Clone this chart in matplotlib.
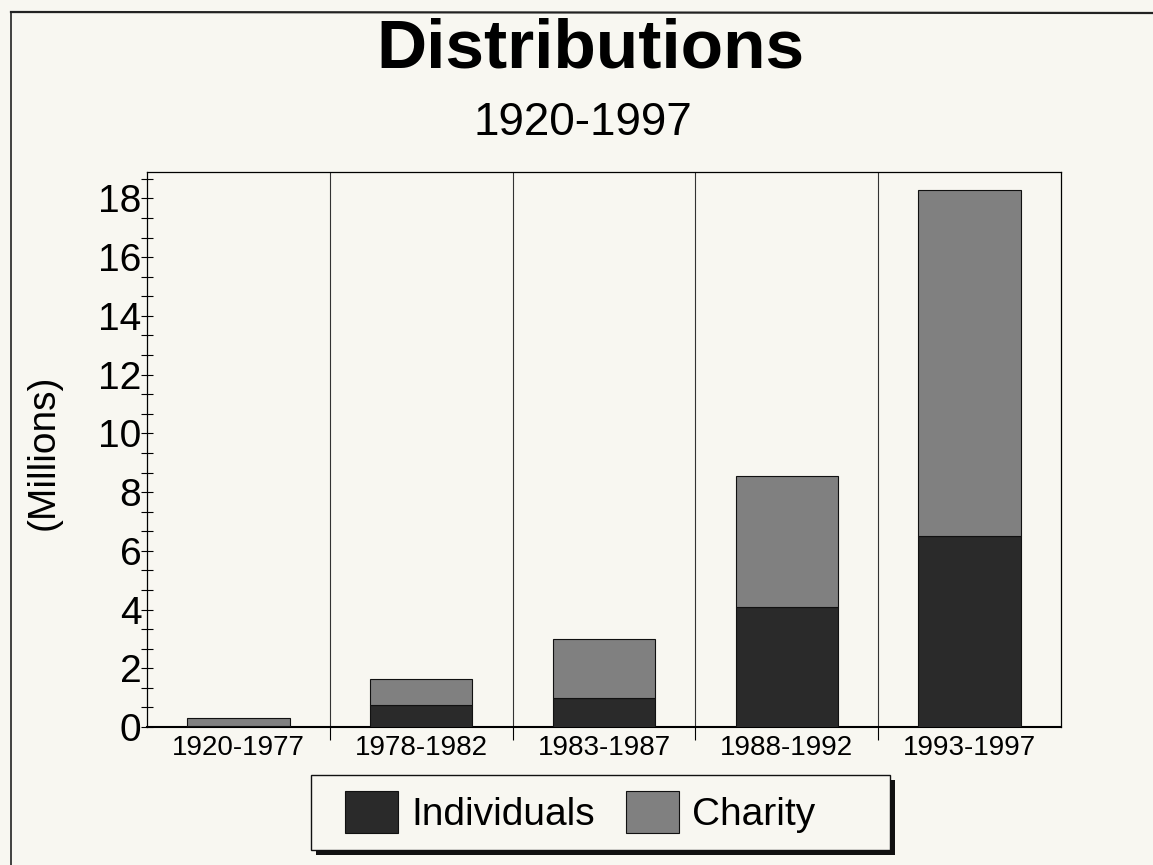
import matplotlib
matplotlib.use("Agg")
import matplotlib.pyplot as plt
from matplotlib.lines import Line2D
from matplotlib.patches import Rectangle
from matplotlib.ticker import MultipleLocator, FixedLocator
import numpy as np

# data (millions)
periods = ["1920-1977", "1978-1982", "1983-1987", "1988-1992", "1993-1997"]
individuals = [0.05, 0.74, 0.98, 4.1, 6.5]
charity = [0.25, 0.88, 2.0, 4.45, 11.8]

bg = "#f8f7f1"
plt.rcParams["font.family"] = ["Liberation Sans", "DejaVu Sans"]

W, H = 1153, 865
fig = plt.figure(figsize=(W / 100, H / 100), dpi=100, facecolor=bg)
ax = fig.add_axes([147 / W, 1 - 727 / H, (1061 - 147) / W, (727 - 172) / H])
ax.set_facecolor(bg)

x = np.arange(len(periods))
ax.bar(x, individuals, width=0.56, color="#2a2a2a", edgecolor="#111111",
       linewidth=0.8, label="Individuals", zorder=3)
ax.bar(x, charity, width=0.56, bottom=individuals, color="#808080",
       edgecolor="#111111", linewidth=0.8, label="Charity", zorder=3)

ax.set_xlim(-0.5, len(periods) - 0.5)
ax.set_ylim(0, 18.9)

# y axis ticks
ax.yaxis.set_major_locator(MultipleLocator(2))
ax.yaxis.set_minor_locator(MultipleLocator(2 / 3))
ax.tick_params(axis="y", which="both", direction="inout", length=8, width=0.8,
               labelsize=28, pad=0)

# x axis: labels at centres, separators between categories
ax.set_xticks(x)
ax.set_xticklabels(periods)
ax.xaxis.set_minor_locator(FixedLocator(np.arange(0.5, len(periods) - 0.5, 1)))
ax.tick_params(axis="x", which="major", length=0, labelsize=20, pad=6)
ax.tick_params(axis="x", which="minor", direction="out", length=9, width=0.8)
ax.grid(True, axis="x", which="minor", color="#333333", linewidth=0.8)

for s in ax.spines.values():
    s.set_linewidth(0.9)
ax.spines["bottom"].set_linewidth(1.5)

# titles and axis label
fig.text(590 / W, 1 - 67 / H, "Distributions", ha="center", va="baseline",
         fontsize=50, fontweight="bold")
fig.text(583 / W, 1 - 135 / H, "1920-1997", ha="center", va="baseline",
         fontsize=33)
fig.text(44 / W, 1 - 452 / H, "(Millions)", rotation=90, ha="center",
         va="center", fontsize=28)

# page frame from the scan
fig.add_artist(Line2D([11 / W, 11 / W], [0, 1 - 12 / H], color="#222222",
                      linewidth=1.2, transform=fig.transFigure))
fig.add_artist(Line2D([11 / W, 1], [1 - 12 / H, 1 - 13 / H], color="#222222",
                      linewidth=1.6, transform=fig.transFigure))

# legend box with drop shadow
fig.add_artist(Rectangle((316 / W, 1 - 855 / H), (890 - 311) / W, 75 / H,
                         facecolor="#111111", edgecolor="none",
                         transform=fig.transFigure))
fig.add_artist(Rectangle((311 / W, 1 - 850 / H), (890 - 311) / W, 75 / H,
                         facecolor=bg, edgecolor="#111111", linewidth=1.0,
                         transform=fig.transFigure))
fig.legend(loc="center left", bbox_to_anchor=(318 / W, 1 - 812 / H), ncol=2,
           fontsize=28, frameon=False, handlelength=1.35, handleheight=1.3,
           handletextpad=0.35, columnspacing=0.8, borderpad=0.2)

fig.savefig("out.png", dpi=100, facecolor=bg)
